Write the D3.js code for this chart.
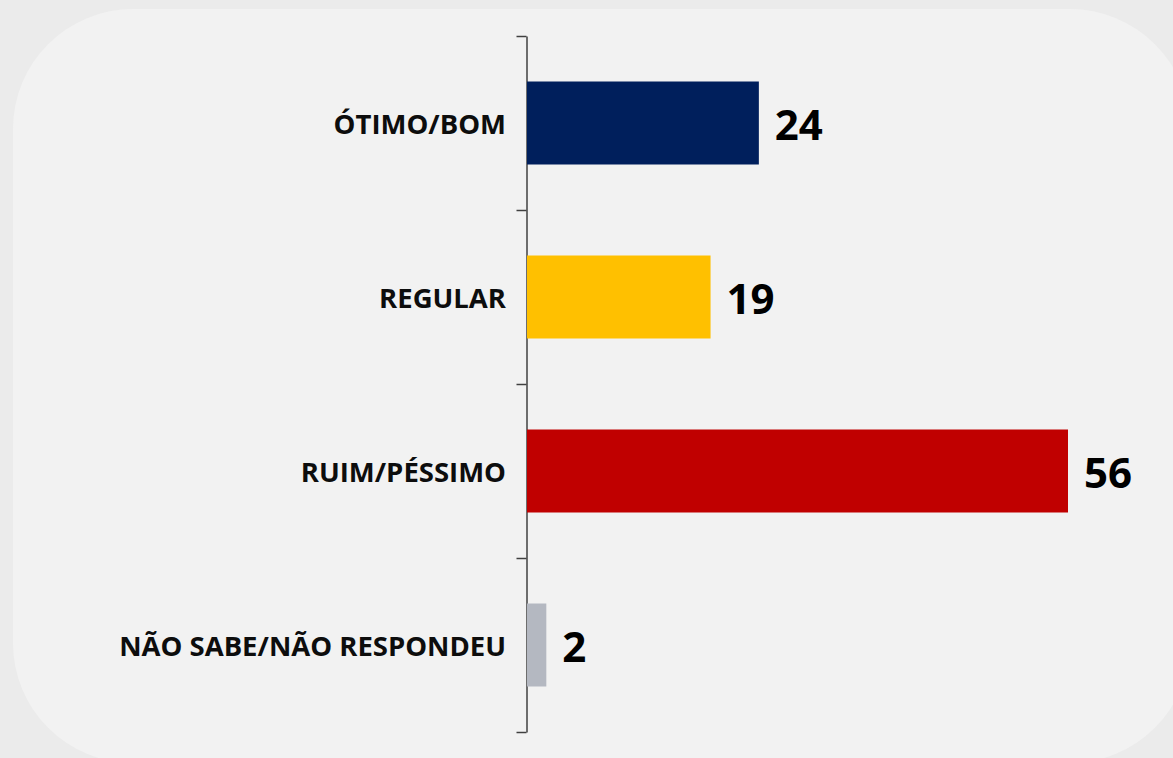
<!DOCTYPE html>
<html>
<head>
<meta charset="utf-8">
<script src="https://cdn.jsdelivr.net/npm/d3@7"></script>
<style>
  html, body { margin: 0; padding: 0; background: #ebebeb; }
  svg { display: block; }
  .cat { font-family: "Open Sans", sans-serif; font-weight: 700; font-size: 27.5px; fill: #0d0d0d; }
  .val { font-family: "Open Sans", sans-serif; font-weight: 700; font-size: 42px; fill: #000; }
  .axis path, .axis line { stroke: #404040; stroke-width: 1.5; }
</style>
</head>
<body>
<div id="chart"></div>
<script>
// Data
const categories = ["ÓTIMO/BOM", "REGULAR", "RUIM/PÉSSIMO", "NÃO SABE/NÃO RESPONDEU"];
const values = [24, 19, 56, 2];
const colors = ["#001f5c", "#ffc000", "#c00000", "#b4b8c1"];

let chart = {
  width: 1173,
  height: 758,
  axisX: 527,
  top: 36,
  bottom: 732
};

let svg = d3.select("#chart").append("svg")
  .attr("width", chart.width)
  .attr("height", chart.height);

// Rounded panel
svg.append("rect")
  .attr("x", 13).attr("y", 9)
  .attr("width", 1177).attr("height", 754)
  .attr("rx", 120).attr("ry", 120)
  .attr("fill", "#f2f2f2");

// Scales
let yScale = d3.scaleBand()
  .domain(categories)
  .range([chart.top, chart.bottom])
  .paddingInner(0.523)
  .paddingOuter(0.2615);

let xScale = d3.scaleLinear()
  .domain([0, 56])
  .range([chart.axisX, 1068]);

// Axis with ticks at the band boundaries
let edgeScale = d3.scaleLinear()
  .domain([0, categories.length])
  .range([chart.top, chart.bottom]);

svg.append("g")
  .attr("class", "axis")
  .attr("transform", `translate(${chart.axisX - 0.5}, 0)`)
  .call(d3.axisLeft(edgeScale)
    .tickValues(d3.range(categories.length + 1))
    .tickFormat("")
    .tickSize(10)
    .tickSizeOuter(0));

let rows = categories.map((c, i) => ({ cat: c, val: values[i], color: colors[i] }));

// Bars
svg.selectAll(".bar").data(rows).enter()
  .append("rect")
  .attr("class", "bar")
  .attr("x", xScale(0))
  .attr("y", d => yScale(d.cat))
  .attr("width", d => xScale(d.val) - xScale(0))
  .attr("height", yScale.bandwidth())
  .attr("fill", d => d.color);

// Category labels
svg.selectAll(".cat").data(rows).enter()
  .append("text")
  .attr("class", "cat")
  .attr("x", 506)
  .attr("y", d => yScale(d.cat) + yScale.bandwidth() / 2)
  .attr("text-anchor", "end")
  .attr("dominant-baseline", "central")
  .text(d => d.cat);

// Value labels
svg.selectAll(".val").data(rows).enter()
  .append("text")
  .attr("class", "val")
  .attr("x", d => xScale(d.val) + 16)
  .attr("y", d => yScale(d.cat) + yScale.bandwidth() / 2)
  .attr("dominant-baseline", "central")
  .text(d => d.val);
</script>
</body>
</html>
